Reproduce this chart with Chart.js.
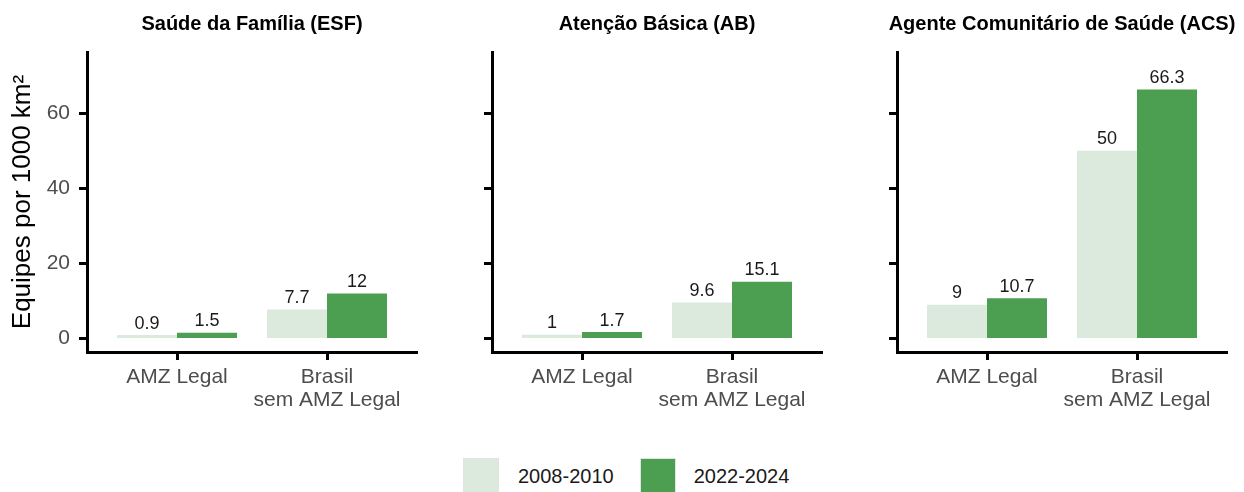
<!DOCTYPE html>
<html lang="pt-BR">
<head>
<meta charset="utf-8">
<title>Equipes por 1000 km²</title>
<script src="https://cdn.jsdelivr.net/npm/chart.js@4.4.1/dist/chart.umd.min.js"></script>
<style>
    html, body { margin: 0; padding: 0; background: #fff; }
    body {
        width: 1244px; height: 492px; position: relative; overflow: hidden;
        font-family: "Liberation Sans", Arial, sans-serif;
    }
    canvas { position: absolute; top: 0; }
    #esfChart { left: 0; }
    #abChart { left: 420px; }
    #acsChart { left: 830px; }
    .legend {
        position: absolute; left: 463px; top: 458px;
        display: flex; align-items: center;
        font-size: 20px; color: #1a1a1a;
    }
    .legend .key { width: 36px; height: 36px; box-sizing: border-box; border: 1.5px solid #e3e3e3; }
    .legend .txt1 { margin-left: 19px; }
    .legend .key2 { margin-left: 26px; }
    .legend .txt2 { margin-left: 18px; }
</style>
</head>
<body>
<canvas id="esfChart" width="420" height="420"></canvas>
<canvas id="abChart" width="410" height="420"></canvas>
<canvas id="acsChart" width="414" height="420"></canvas>
<div class="legend" id="legend"></div>

<script>
    // Data
    const categories = ['AMZ Legal', ['Brasil', 'sem AMZ Legal']];
    const periods = ['2008-2010', '2022-2024'];
    const periodColors = ['#dbeadc', '#4c9e50'];
    const panelTitles = ['Saúde da Família (ESF)', 'Atenção Básica (AB)', 'Agente Comunitário de Saúde (ACS)'];
    const esfOld = [0.9, 7.7];
    const esfNew = [1.5, 12];
    const abOld = [1, 9.6];
    const abNew = [1.7, 15.1];
    const acsOld = [9, 50];
    const acsNew = [10.7, 66.3];
    const yTicks = [0, 20, 40, 60];
    const yTitle = 'Equipes por 1000 km²';

    const FONT = '"Liberation Sans", Arial, sans-serif';

    // value labels above each bar
    const valueLabels = {
        id: 'valueLabels',
        afterDatasetsDraw(chart) {
            const ctx = chart.ctx;
            ctx.save();
            ctx.font = '18px ' + FONT;
            ctx.fillStyle = '#1a1a1a';
            ctx.textAlign = 'center';
            ctx.textBaseline = 'alphabetic';
            chart.data.datasets.forEach((ds, di) => {
                chart.getDatasetMeta(di).data.forEach((bar, i) => {
                    ctx.fillText(String(ds.data[i].y), bar.x, bar.y - 6.5);
                });
            });
            ctx.restore();
        }
    };

    // facet strip title, centred on the panel
    const panelTitle = {
        id: 'panelTitle',
        afterDraw(chart, args, opts) {
            const { ctx, chartArea } = chart;
            ctx.save();
            ctx.font = 'bold 20px ' + FONT;
            ctx.fillStyle = '#000';
            ctx.textAlign = 'center';
            ctx.textBaseline = 'alphabetic';
            ctx.fillText(opts.text, (chartArea.left + chartArea.right) / 2, 30);
            ctx.restore();
        }
    };

    const axisBorder = { display: true, color: '#000', width: 3 };
    const axisGrid = {
        display: true, drawOnChartArea: false, drawTicks: true,
        tickLength: 8, tickWidth: 3, tickColor: '#000', offset: false
    };

    function makePanel(id, title, oldVals, newVals, yWidth, padRight, showY) {
        const ctx = document.getElementById(id).getContext('2d');
        return new Chart(ctx, {
            type: 'bar',
            data: {
                datasets: [
                    {
                        label: periods[0],
                        data: oldVals.map((v, i) => ({ x: i + 1, y: v })),
                        backgroundColor: periodColors[0],
                        borderWidth: 0,
                        categoryPercentage: 0.8,
                        barPercentage: 1
                    },
                    {
                        label: periods[1],
                        data: newVals.map((v, i) => ({ x: i + 1, y: v })),
                        backgroundColor: periodColors[1],
                        borderWidth: 0,
                        categoryPercentage: 0.8,
                        barPercentage: 1
                    }
                ]
            },
            options: {
                responsive: false,
                animation: false,
                devicePixelRatio: 1,
                events: [],
                layout: { padding: { top: 52, right: padRight, bottom: 0, left: 0 } },
                plugins: {
                    legend: { display: false },
                    tooltip: { enabled: false },
                    panelTitle: { text: title }
                },
                scales: {
                    x: {
                        type: 'linear',
                        min: 0.4,
                        max: 2.6,
                        offset: false,
                        afterBuildTicks: function(scale) {
                            scale.ticks = categories.map((c, i) => ({ value: i + 1 }));
                        },
                        afterFit: function(scale) { scale.height = 68; },
                        ticks: {
                            autoSkip: false,
                            maxRotation: 0,
                            padding: 6,
                            color: '#4d4d4d',
                            font: { family: FONT, size: 21, lineHeight: 1.1 },
                            callback: function(value) { return categories[value - 1]; }
                        },
                        grid: axisGrid,
                        border: axisBorder
                    },
                    y: {
                        min: -3.6,
                        max: 76.3,
                        afterBuildTicks: function(scale) {
                            scale.ticks = yTicks.map(v => ({ value: v }));
                        },
                        afterFit: function(scale) { scale.width = yWidth; },
                        ticks: {
                            display: showY,
                            padding: 9,
                            color: '#4d4d4d',
                            font: { family: FONT, size: 21 }
                        },
                        title: {
                            display: showY,
                            text: yTitle,
                            color: '#000',
                            font: { family: FONT, size: 26 },
                            padding: { top: 7, bottom: 0 }
                        },
                        grid: axisGrid,
                        border: axisBorder
                    }
                }
            },
            plugins: [valueLabels, panelTitle]
        });
    }

    const esfChart = makePanel('esfChart', panelTitles[0], esfOld, esfNew, 87, 3, true);
    const abChart = makePanel('abChart', panelTitles[1], abOld, abNew, 72, 8, false);
    const acsChart = makePanel('acsChart', panelTitles[2], acsOld, acsNew, 67, 17, false);

    // Legend
    const legend = document.getElementById('legend');
    periods.forEach((p, i) => {
        const key = document.createElement('div');
        key.className = 'key' + (i > 0 ? ' key2' : '');
        key.style.background = periodColors[i];
        const txt = document.createElement('span');
        txt.className = 'txt' + (i + 1);
        txt.textContent = p;
        legend.appendChild(key);
        legend.appendChild(txt);
    });
</script>
</body>
</html>
